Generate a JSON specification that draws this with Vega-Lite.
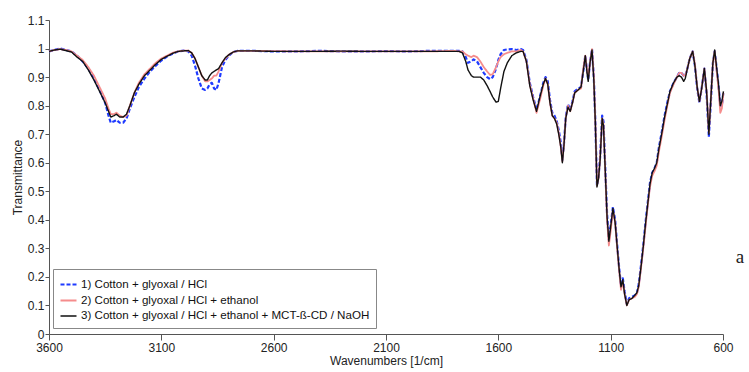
{
  "$schema": "https://vega.github.io/schema/vega-lite/v6.json",
  "width": 674,
  "height": 314,
  "autosize": {"type": "none"},
  "padding": {"left": 49, "top": 20, "right": 26, "bottom": 38},
  "background": "white",
  "config": {
    "view": {"stroke": null},
    "font": "Liberation Sans",
    "axis": {"grid": false, "domainColor": "#555", "tickColor": "#555", "labelColor": "#222", "labelFontSize": 12, "titleFontSize": 12, "titleFontWeight": "normal", "titleColor": "#222", "labelFont": "Liberation Sans", "titleFont": "Liberation Sans"},
    "legend": {"orient": "none", "legendX": 4, "legendY": 249, "strokeColor": "#888", "fillColor": "white", "padding": 6, "rowPadding": 0.5, "symbolType": "stroke", "symbolSize": 256, "symbolStrokeWidth": 2, "labelFontSize": 11.6, "labelColor": "#111", "labelFont": "Liberation Sans", "labelOffset": 3, "labelLimit": 400}
  },
  "layer": [
    {
      "data": {"values": [
        {"w":3600,"s1":0.99,"s2":0.99,"s3":0.99},
        {"w":3575,"s1":0.995,"s2":0.995,"s3":0.995},
        {"w":3550,"s1":1.0,"s2":0.998,"s3":0.998},
        {"w":3525,"s1":0.995,"s2":0.995,"s3":0.993},
        {"w":3500,"s1":0.99,"s2":0.99,"s3":0.988},
        {"w":3475,"s1":0.975,"s2":0.975,"s3":0.97},
        {"w":3450,"s1":0.955,"s2":0.96,"s3":0.955},
        {"w":3425,"s1":0.93,"s2":0.935,"s3":0.925},
        {"w":3400,"s1":0.895,"s2":0.905,"s3":0.89},
        {"w":3375,"s1":0.855,"s2":0.865,"s3":0.85},
        {"w":3350,"s1":0.81,"s2":0.825,"s3":0.81},
        {"w":3335,"s1":0.765,"s2":0.79,"s3":0.78},
        {"w":3325,"s1":0.74,"s2":0.77,"s3":0.76},
        {"w":3310,"s1":0.745,"s2":0.77,"s3":0.765},
        {"w":3300,"s1":0.75,"s2":0.775,"s3":0.77},
        {"w":3285,"s1":0.74,"s2":0.765,"s3":0.76},
        {"w":3270,"s1":0.74,"s2":0.76,"s3":0.76},
        {"w":3255,"s1":0.755,"s2":0.765,"s3":0.77},
        {"w":3240,"s1":0.79,"s2":0.8,"s3":0.8},
        {"w":3220,"s1":0.83,"s2":0.845,"s3":0.845},
        {"w":3200,"s1":0.865,"s2":0.88,"s3":0.875},
        {"w":3175,"s1":0.895,"s2":0.91,"s3":0.905},
        {"w":3150,"s1":0.92,"s2":0.93,"s3":0.925},
        {"w":3125,"s1":0.94,"s2":0.95,"s3":0.945},
        {"w":3100,"s1":0.958,"s2":0.965,"s3":0.962},
        {"w":3075,"s1":0.972,"s2":0.975,"s3":0.973},
        {"w":3050,"s1":0.982,"s2":0.985,"s3":0.983},
        {"w":3025,"s1":0.99,"s2":0.99,"s3":0.99},
        {"w":3000,"s1":0.993,"s2":0.993,"s3":0.992},
        {"w":2980,"s1":0.99,"s2":0.993,"s3":0.993},
        {"w":2965,"s1":0.975,"s2":0.985,"s3":0.985},
        {"w":2950,"s1":0.94,"s2":0.965,"s3":0.965},
        {"w":2935,"s1":0.895,"s2":0.935,"s3":0.935},
        {"w":2920,"s1":0.86,"s2":0.905,"s3":0.905},
        {"w":2905,"s1":0.855,"s2":0.885,"s3":0.89},
        {"w":2895,"s1":0.86,"s2":0.885,"s3":0.89},
        {"w":2885,"s1":0.875,"s2":0.89,"s3":0.905},
        {"w":2875,"s1":0.88,"s2":0.895,"s3":0.915},
        {"w":2865,"s1":0.86,"s2":0.905,"s3":0.92},
        {"w":2855,"s1":0.855,"s2":0.905,"s3":0.925},
        {"w":2845,"s1":0.88,"s2":0.92,"s3":0.93},
        {"w":2830,"s1":0.935,"s2":0.95,"s3":0.95},
        {"w":2815,"s1":0.96,"s2":0.965,"s3":0.968},
        {"w":2800,"s1":0.975,"s2":0.978,"s3":0.978},
        {"w":2780,"s1":0.988,"s2":0.988,"s3":0.988},
        {"w":2760,"s1":0.992,"s2":0.992,"s3":0.992},
        {"w":2700,"s1":0.992,"s2":0.992,"s3":0.992},
        {"w":2600,"s1":0.99,"s2":0.991,"s3":0.99},
        {"w":2500,"s1":0.99,"s2":0.99,"s3":0.99},
        {"w":2400,"s1":0.992,"s2":0.99,"s3":0.99},
        {"w":2300,"s1":0.99,"s2":0.99,"s3":0.991},
        {"w":2200,"s1":0.99,"s2":0.99,"s3":0.99},
        {"w":2100,"s1":0.991,"s2":0.99,"s3":0.99},
        {"w":2000,"s1":0.99,"s2":0.99,"s3":0.99},
        {"w":1900,"s1":0.992,"s2":0.99,"s3":0.99},
        {"w":1800,"s1":0.992,"s2":0.992,"s3":0.99},
        {"w":1775,"s1":0.992,"s2":0.99,"s3":0.99},
        {"w":1760,"s1":0.99,"s2":0.99,"s3":0.985},
        {"w":1745,"s1":0.97,"s2":0.98,"s3":0.955},
        {"w":1735,"s1":0.95,"s2":0.975,"s3":0.925},
        {"w":1720,"s1":0.955,"s2":0.97,"s3":0.905},
        {"w":1710,"s1":0.962,"s2":0.975,"s3":0.9},
        {"w":1695,"s1":0.955,"s2":0.97,"s3":0.9},
        {"w":1680,"s1":0.935,"s2":0.955,"s3":0.9},
        {"w":1665,"s1":0.915,"s2":0.935,"s3":0.89},
        {"w":1650,"s1":0.9,"s2":0.92,"s3":0.87},
        {"w":1637,"s1":0.893,"s2":0.908,"s3":0.85},
        {"w":1625,"s1":0.9,"s2":0.91,"s3":0.83},
        {"w":1610,"s1":0.93,"s2":0.935,"s3":0.812},
        {"w":1600,"s1":0.96,"s2":0.955,"s3":0.815},
        {"w":1590,"s1":0.98,"s2":0.97,"s3":0.86},
        {"w":1575,"s1":0.995,"s2":0.98,"s3":0.92},
        {"w":1560,"s1":0.997,"s2":0.985,"s3":0.95},
        {"w":1540,"s1":0.998,"s2":0.99,"s3":0.975},
        {"w":1520,"s1":0.995,"s2":0.99,"s3":0.985},
        {"w":1500,"s1":0.998,"s2":0.995,"s3":0.99},
        {"w":1490,"s1":0.995,"s2":0.99,"s3":0.99},
        {"w":1475,"s1":0.96,"s2":0.955,"s3":0.955},
        {"w":1460,"s1":0.88,"s2":0.875,"s3":0.87},
        {"w":1445,"s1":0.83,"s2":0.825,"s3":0.82},
        {"w":1430,"s1":0.785,"s2":0.775,"s3":0.78},
        {"w":1415,"s1":0.83,"s2":0.82,"s3":0.83},
        {"w":1400,"s1":0.88,"s2":0.87,"s3":0.875},
        {"w":1390,"s1":0.9,"s2":0.895,"s3":0.895},
        {"w":1380,"s1":0.885,"s2":0.875,"s3":0.875},
        {"w":1370,"s1":0.82,"s2":0.81,"s3":0.81},
        {"w":1360,"s1":0.775,"s2":0.765,"s3":0.765},
        {"w":1350,"s1":0.765,"s2":0.755,"s3":0.755},
        {"w":1340,"s1":0.745,"s2":0.74,"s3":0.735},
        {"w":1330,"s1":0.71,"s2":0.7,"s3":0.695},
        {"w":1322,"s1":0.67,"s2":0.655,"s3":0.655},
        {"w":1315,"s1":0.61,"s2":0.605,"s3":0.6},
        {"w":1308,"s1":0.665,"s2":0.66,"s3":0.66},
        {"w":1300,"s1":0.76,"s2":0.755,"s3":0.755},
        {"w":1290,"s1":0.805,"s2":0.8,"s3":0.795},
        {"w":1280,"s1":0.785,"s2":0.78,"s3":0.78},
        {"w":1270,"s1":0.815,"s2":0.81,"s3":0.81},
        {"w":1260,"s1":0.85,"s2":0.845,"s3":0.845},
        {"w":1245,"s1":0.86,"s2":0.855,"s3":0.855},
        {"w":1232,"s1":0.865,"s2":0.86,"s3":0.865},
        {"w":1222,"s1":0.92,"s2":0.93,"s3":0.92},
        {"w":1213,"s1":0.975,"s2":0.975,"s3":0.975},
        {"w":1205,"s1":0.92,"s2":0.925,"s3":0.915},
        {"w":1200,"s1":0.89,"s2":0.895,"s3":0.885},
        {"w":1192,"s1":0.95,"s2":0.95,"s3":0.95},
        {"w":1183,"s1":0.998,"s2":0.998,"s3":0.995},
        {"w":1175,"s1":0.9,"s2":0.9,"s3":0.89},
        {"w":1168,"s1":0.74,"s2":0.74,"s3":0.735},
        {"w":1161,"s1":0.52,"s2":0.52,"s3":0.515},
        {"w":1154,"s1":0.55,"s2":0.545,"s3":0.545},
        {"w":1147,"s1":0.62,"s2":0.615,"s3":0.61},
        {"w":1138,"s1":0.765,"s2":0.755,"s3":0.755},
        {"w":1132,"s1":0.745,"s2":0.735,"s3":0.73},
        {"w":1125,"s1":0.6,"s2":0.59,"s3":0.59},
        {"w":1116,"s1":0.42,"s2":0.4,"s3":0.41},
        {"w":1108,"s1":0.33,"s2":0.31,"s3":0.325},
        {"w":1100,"s1":0.38,"s2":0.36,"s3":0.375},
        {"w":1090,"s1":0.445,"s2":0.435,"s3":0.44},
        {"w":1080,"s1":0.4,"s2":0.39,"s3":0.39},
        {"w":1072,"s1":0.32,"s2":0.31,"s3":0.315},
        {"w":1062,"s1":0.23,"s2":0.22,"s3":0.225},
        {"w":1054,"s1":0.17,"s2":0.155,"s3":0.165},
        {"w":1046,"s1":0.195,"s2":0.185,"s3":0.19},
        {"w":1038,"s1":0.15,"s2":0.14,"s3":0.14},
        {"w":1028,"s1":0.105,"s2":0.1,"s3":0.1},
        {"w":1018,"s1":0.125,"s2":0.12,"s3":0.12},
        {"w":1005,"s1":0.13,"s2":0.125,"s3":0.125},
        {"w":993,"s1":0.135,"s2":0.13,"s3":0.135},
        {"w":983,"s1":0.145,"s2":0.14,"s3":0.145},
        {"w":975,"s1":0.175,"s2":0.165,"s3":0.17},
        {"w":965,"s1":0.24,"s2":0.23,"s3":0.235},
        {"w":955,"s1":0.31,"s2":0.3,"s3":0.305},
        {"w":945,"s1":0.39,"s2":0.375,"s3":0.385},
        {"w":935,"s1":0.46,"s2":0.45,"s3":0.455},
        {"w":925,"s1":0.53,"s2":0.515,"s3":0.525},
        {"w":915,"s1":0.565,"s2":0.555,"s3":0.565},
        {"w":905,"s1":0.58,"s2":0.57,"s3":0.58},
        {"w":895,"s1":0.6,"s2":0.59,"s3":0.6},
        {"w":885,"s1":0.655,"s2":0.64,"s3":0.65},
        {"w":872,"s1":0.71,"s2":0.695,"s3":0.705},
        {"w":860,"s1":0.765,"s2":0.75,"s3":0.76},
        {"w":848,"s1":0.81,"s2":0.8,"s3":0.805},
        {"w":836,"s1":0.85,"s2":0.845,"s3":0.85},
        {"w":820,"s1":0.88,"s2":0.875,"s3":0.88},
        {"w":805,"s1":0.9,"s2":0.9,"s3":0.9},
        {"w":795,"s1":0.915,"s2":0.915,"s3":0.905},
        {"w":785,"s1":0.915,"s2":0.915,"s3":0.9},
        {"w":775,"s1":0.905,"s2":0.905,"s3":0.885},
        {"w":768,"s1":0.905,"s2":0.905,"s3":0.895},
        {"w":760,"s1":0.925,"s2":0.925,"s3":0.925},
        {"w":748,"s1":0.965,"s2":0.965,"s3":0.965},
        {"w":735,"s1":0.99,"s2":0.99,"s3":0.99},
        {"w":725,"s1":0.94,"s2":0.945,"s3":0.94},
        {"w":715,"s1":0.86,"s2":0.865,"s3":0.865},
        {"w":705,"s1":0.81,"s2":0.815,"s3":0.815},
        {"w":695,"s1":0.86,"s2":0.86,"s3":0.86},
        {"w":683,"s1":0.93,"s2":0.93,"s3":0.93},
        {"w":673,"s1":0.84,"s2":0.85,"s3":0.85},
        {"w":663,"s1":0.69,"s2":0.705,"s3":0.7},
        {"w":655,"s1":0.8,"s2":0.81,"s3":0.81},
        {"w":645,"s1":0.95,"s2":0.95,"s3":0.95},
        {"w":637,"s1":0.99,"s2":0.99,"s3":0.995},
        {"w":628,"s1":0.93,"s2":0.92,"s3":0.93},
        {"w":620,"s1":0.87,"s2":0.86,"s3":0.875},
        {"w":612,"s1":0.8,"s2":0.775,"s3":0.8},
        {"w":605,"s1":0.8,"s2":0.79,"s3":0.815},
        {"w":598,"s1":0.85,"s2":0.845,"s3":0.85}
      ]},
      "transform": [{"fold": ["s1", "s2", "s3"], "as": ["series", "t"]}],
      "mark": {"type": "line", "strokeJoin": "round", "strokeCap": "butt"},
      "encoding": {
        "x": {"field": "w", "type": "quantitative", "title": "Wavenumbers [1/cm]",
          "scale": {"domain": [600, 3600], "reverse": true, "nice": false, "zero": false},
          "axis": {"values": [3600, 3100, 2600, 2100, 1600, 1100, 600], "format": "d", "tickSize": 6, "labelPadding": 2, "titlePadding": 2, "labelFlush": false, "labelOverlap": false}},
        "y": {"field": "t", "type": "quantitative", "title": "Transmittance",
          "scale": {"domain": [0, 1.1], "nice": false, "zero": false},
          "axis": {"values": [0, 0.1, 0.2, 0.3, 0.4, 0.5, 0.6, 0.7, 0.8, 0.9, 1, 1.1], "format": ".1~f", "tickSize": 4, "labelPadding": 1, "titlePadding": 3, "labelFlush": false, "labelOverlap": false, "labelBound": false, "tickCount": 12}},
        "color": {"field": "series", "type": "nominal",
          "scale": {"domain": ["s1", "s2", "s3"], "range": ["#1f3bff", "#f58c8c", "#111111"]},
          "legend": {"title": null, "labelExpr": "datum.value == 's1' ? '1) Cotton + glyoxal / HCl' : datum.value == 's2' ? '2) Cotton + glyoxal / HCl + ethanol' : '3) Cotton + glyoxal / HCl + ethanol + MCT-ß-CD / NaOH'"}},
        "strokeDash": {"field": "series", "type": "nominal",
          "scale": {"domain": ["s1", "s2", "s3"], "range": [[4, 2], [1, 0], [1, 0]]},
          "legend": {"title": null, "labelExpr": "datum.value == 's1' ? '1) Cotton + glyoxal / HCl' : datum.value == 's2' ? '2) Cotton + glyoxal / HCl + ethanol' : '3) Cotton + glyoxal / HCl + ethanol + MCT-ß-CD / NaOH'"}},
        "strokeWidth": {"field": "series", "type": "ordinal",
          "scale": {"domain": ["s1", "s2", "s3"], "range": [2.2, 1.4, 1.8]},
          "legend": null}
      }
    },
    {
      "data": {"values": [{"label": "a", "w": 524, "t": 0.25}]},
      "mark": {"type": "text", "font": "Liberation Serif", "fontSize": 19, "align": "center", "baseline": "alphabetic", "color": "#222"},
      "encoding": {
        "x": {"field": "w", "type": "quantitative"},
        "y": {"field": "t", "type": "quantitative"},
        "text": {"field": "label"}
      }
    }
  ]
}
